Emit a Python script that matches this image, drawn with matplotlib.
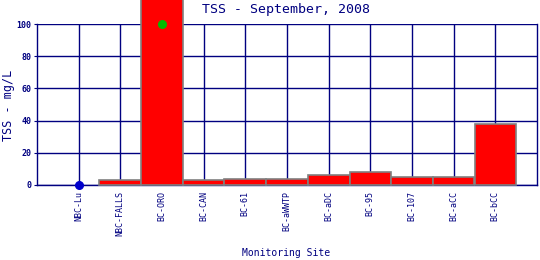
import matplotlib
matplotlib.use("Agg")
import matplotlib.pyplot as plt

sites = ["NBC-Lu", "NBC-FALLS", "BC-ORO", "BC-CAN", "BC-61", "BC-aWWTP",
         "BC-aDC", "BC-95", "BC-107", "BC-aCC", "BC-bCC"]
tss = [0, 3, 150, 3, 3.5, 3.5, 6, 8, 5, 5, 38]
green_marker_site = "BC-ORO"
green_marker_value = 100
blue_marker_site = "NBC-Lu"
blue_marker_value = 0
yticks = [0, 20, 40, 60, 80, 100]

navy = "#000080"
plt.rcParams['font.family'] = ['DejaVu Sans Mono']

fig = plt.figure(figsize=(5.4, 2.6), dpi=100)
ax = fig.add_axes([37/540, 1-185/260, 500/540, 161/260])

x = list(range(len(sites)))
for xi, v in zip(x, tss):
    if v > 0:
        ax.bar(xi, v, width=1.0, color="red", edgecolor="#808080",
               linewidth=1.2, zorder=3, clip_on=False)

ax.plot(sites.index(green_marker_site), green_marker_value, marker="o",
        color="#00bb00", markersize=5.5, zorder=5, clip_on=False)
ax.plot(sites.index(blue_marker_site), blue_marker_value, marker="o",
        color="#0000cc", markersize=5.5, zorder=5, clip_on=False)

ax.set_xlim(-1, len(sites))
ax.set_ylim(0, 100)
ax.set_xticks(x)
ax.set_xticklabels(sites, rotation=90, fontsize=6, color=navy, va="top")
ax.set_yticks(yticks)
ax.set_yticklabels([str(t) for t in yticks], fontsize=6, color=navy, fontweight="bold")
ax.tick_params(axis="x", length=0, pad=4)
ax.tick_params(axis="y", length=2, pad=2, color=navy)
ax.grid(True, color=navy, linewidth=1.0, zorder=1)
ax.set_axisbelow(True)
for s in ["left", "right", "bottom"]:
    ax.spines[s].set_color(navy)
    ax.spines[s].set_linewidth(1.0)
ax.spines["top"].set_visible(False)

fig.text(286/540, 1-9/260, "TSS - September, 2008", ha="center", va="center",
         fontsize=9.5, color=navy)
fig.text(9/540, 1-105/260, "TSS - mg/L", ha="center", va="center",
         rotation=90, fontsize=8.5, color=navy)
fig.text(286/540, 1-253/260, "Monitoring Site", ha="center", va="center",
         fontsize=7, color=navy)

fig.savefig("out.png", dpi=100)
